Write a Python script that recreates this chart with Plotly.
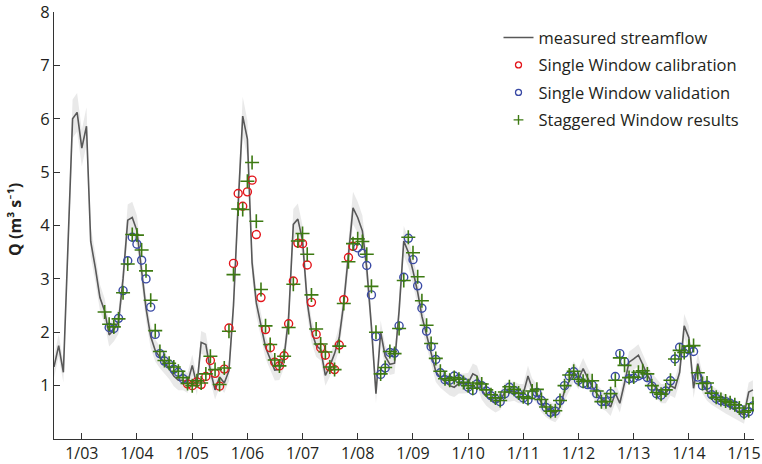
import plotly.graph_objects as go
import pandas as pd

# ---------------- data ----------------
# measured streamflow (monthly), Jul 2002 - Mar 2015
measured_start = "2002-07-01"
measured_q = [
    1.35, 1.75, 1.25, 3.6, 6.0, 6.12,                                      # 2002 Jul-Dec
    5.45, 5.86, 3.7, 3.2, 2.65, 2.4, 1.95, 2.05, 2.2, 3.0, 4.1, 4.15,      # 2003
    3.9, 3.15, 2.45, 1.92, 1.66, 1.53, 1.42, 1.32, 1.18, 1.1, 1.1, 1.05,   # 2004
    1.38, 1.0, 1.81, 1.77, 1.28, 0.92, 1.16, 1.05, 1.28, 2.5, 4.4, 6.05,   # 2005
    5.62, 3.3, 2.55, 2.1, 1.72, 1.5, 1.29, 1.3, 1.54, 2.28, 4.02, 4.12,    # 2006
    3.72, 2.56, 2.03, 1.75, 1.68, 1.19, 1.37, 1.6, 1.9, 2.55, 3.4, 4.33,   # 2007
    4.15, 3.9, 3.2, 2.1, 0.85, 2.0, 1.55, 1.4, 1.42, 2.4, 3.71, 3.5,       # 2008
    3.15, 2.75, 2.3, 1.95, 1.6, 1.26, 1.15, 1.07, 1.0, 0.97, 1.04, 1.04,   # 2009
    1.05, 1.22, 1.18, 0.92, 0.8, 0.73, 0.67, 0.72, 0.88, 0.88, 0.9, 0.85,  # 2010
    0.85, 1.18, 0.95, 0.85, 0.68, 0.58, 0.52, 0.48, 0.6, 0.9, 1.1, 1.26,   # 2011
    1.12, 1.32, 1.15, 0.98, 0.85, 0.75, 0.7, 0.6, 0.86, 0.67, 1.05, 1.44,  # 2012
    1.5, 1.57, 1.4, 1.2, 1.05, 0.95, 0.85, 0.85, 1.0, 0.95, 1.25, 2.12,    # 2013
    1.9, 0.95, 1.41, 1.04, 0.9, 0.82, 0.76, 0.7, 0.65, 0.6, 0.55, 0.5,     # 2014
    0.45, 0.88, 0.92,                                                      # 2015 Jan-Mar
]
# absolute / relative half-width of the measurement uncertainty band
band_abs = 0.15
band_rel = 0.035

# Single Window calibration, Dec 2004 - Dec 2007
calib_start = "2004-12-01"
calib_q = [
    1.03,
    1.0, 1.07, 1.02, 1.17, 1.47, 1.23, 0.99, 1.31, 2.08, 3.29, 4.6, 4.36,
    4.63, 4.85, 3.83, 2.65, 2.05, 1.71, 1.44, 1.37, 1.56, 2.16, 2.96, 3.67,
    3.66, 3.26, 2.56, 1.96, 1.71, 1.57, 1.35, 1.3, 1.76, 2.61, 3.4, 3.61,
]

# Single Window validation, Jul 2003 - Nov 2004 and Jan 2008 - Mar 2015
valid1_start = "2003-07-01"
valid1_q = [
    2.09, 2.07, 2.26, 2.78, 3.34, 3.78,
    3.65, 3.35, 3.0, 2.47, 1.96, 1.6, 1.46, 1.4, 1.31, 1.25, 1.13,
]
valid2_start = "2008-01-01"
valid2_q = [
    3.58, 3.48, 3.25, 2.7, 1.92, 1.21, 1.33, 1.62, 1.61, 2.12, 3.03, 3.76,
    3.36, 2.87, 2.45, 2.02, 1.73, 1.49, 1.24, 1.11, 1.1, 1.18, 1.13, 1.07,
    0.97, 0.91, 1.03, 1.0, 0.9, 0.81, 0.75, 0.7, 0.85, 0.97, 0.91, 0.84,
    0.77, 0.73, 0.83, 0.87, 0.72, 0.59, 0.5, 0.52, 0.72, 1.0, 1.18, 1.26,
    1.1, 1.04, 1.02, 1.01, 0.85, 0.7, 0.7, 0.85, 1.17, 1.6, 1.45, 1.13,
    1.14, 1.18, 1.21, 1.15, 0.99, 0.85, 0.82, 0.9, 1.09, 1.5, 1.72, 1.61,
    1.67, 1.64, 1.16, 1.0, 1.01, 0.83, 0.76, 0.72, 0.7, 0.67, 0.63, 0.57,
    0.48, 0.51, 0.62,
]

# Staggered Window results, Jun 2003 - Mar 2015
stag_start = "2003-06-01"
stag_q = [
    2.38, 2.15, 2.1, 2.25, 2.74, 3.28, 3.83,
    3.82, 3.54, 3.15, 2.6, 2.03, 1.64, 1.47, 1.42, 1.35, 1.27, 1.15, 1.04,
    1.0, 1.09, 1.05, 1.22, 1.55, 1.3, 1.02, 1.33, 2.02, 3.08, 4.31, 4.3,
    4.83, 5.18, 4.08, 2.8, 2.12, 1.77, 1.48, 1.37, 1.55, 2.09, 2.9, 3.71,
    3.85, 3.46, 2.7, 2.06, 1.78, 1.63, 1.35, 1.3, 1.74, 2.54, 3.32, 3.66,
    3.75, 3.7, 3.46, 2.86, 2.0, 1.22, 1.34, 1.64, 1.6, 2.07, 2.97, 3.78,
    3.49, 3.04, 2.59, 2.13, 1.79, 1.51, 1.27, 1.13, 1.1, 1.15, 1.12, 1.06,
    1.0, 0.95, 1.05, 1.03, 0.92, 0.83, 0.77, 0.72, 0.88, 0.98, 0.93, 0.86,
    0.79, 0.76, 0.9, 0.93, 0.74, 0.6, 0.52, 0.53, 0.72, 1.0, 1.2, 1.27,
    1.12, 1.08, 1.09, 1.09, 0.9, 0.7, 0.7, 0.85, 1.1, 1.52, 1.38, 1.15,
    1.16, 1.25, 1.28, 1.22, 1.0, 0.87, 0.84, 0.92, 1.1, 1.5, 1.66, 1.62,
    1.74, 1.75, 1.24, 1.04, 1.05, 0.86, 0.78, 0.74, 0.71, 0.68, 0.64, 0.58,
    0.5, 0.53, 0.66,
]

tick_years = list(range(2003, 2016))
tick_labels = ["1/%02d" % (y % 100) for y in tick_years]


def months(start, n):
    return pd.date_range(start, periods=n, freq="MS")


x_meas = months(measured_start, len(measured_q))
upper = [q + band_abs + band_rel * q for q in measured_q]
lower = [q - band_abs - band_rel * q for q in measured_q]

x_cal = months(calib_start, len(calib_q))
x_val = list(months(valid1_start, len(valid1_q))) + list(months(valid2_start, len(valid2_q)))
y_val = valid1_q + valid2_q
x_stag = months(stag_start, len(stag_q))

FONT = "Open Sans, Lato, DejaVu Sans, sans-serif"
TXT = "#231f20"
RED = "#e3151b"
BLUE = "#3a4aa5"
GREEN = "#3d7a12"
LINE = "#585858"
AX = "#333333"

fig = go.Figure()
fig.add_trace(go.Scatter(x=x_meas, y=upper, mode="lines", line=dict(width=0),
                         showlegend=False, hoverinfo="skip"))
fig.add_trace(go.Scatter(x=x_meas, y=lower, mode="lines", line=dict(width=0),
                         fill="tonexty", fillcolor="rgba(225,225,225,0.75)",
                         showlegend=False, hoverinfo="skip"))
fig.add_trace(go.Scatter(x=x_meas, y=measured_q, mode="lines",
                         line=dict(color=LINE, width=1.6),
                         name="measured streamflow", showlegend=False))
fig.add_trace(go.Scatter(x=x_cal, y=calib_q, mode="markers",
                         marker=dict(symbol="circle-open", size=8, color=RED,
                                     line=dict(width=1.4, color=RED)),
                         name="Single Window calibration", showlegend=False))
fig.add_trace(go.Scatter(x=x_val, y=y_val, mode="markers",
                         marker=dict(symbol="circle-open", size=8, color=BLUE,
                                     line=dict(width=1.4, color=BLUE)),
                         name="Single Window validation", showlegend=False))
fig.add_trace(go.Scatter(x=x_stag, y=stag_q, mode="markers",
                         marker=dict(symbol="cross-thin-open", size=10, color=GREEN,
                                     line=dict(width=1.6, color=GREEN)),
                         name="Staggered Window results", showlegend=False))

# legend entries (small symbols, as in the original legend)
fig.add_trace(go.Scatter(x=[None], y=[None], mode="lines",
                         line=dict(color=LINE, width=1.6),
                         name="measured streamflow", legendgroup="a"))
fig.add_trace(go.Scatter(x=[None], y=[None], mode="markers",
                         marker=dict(symbol="circle-open", size=6, color=RED,
                                     line=dict(width=1.3, color=RED)),
                         name="Single Window calibration", legendgroup="b"))
fig.add_trace(go.Scatter(x=[None], y=[None], mode="markers",
                         marker=dict(symbol="circle-open", size=6, color=BLUE,
                                     line=dict(width=1.3, color=BLUE)),
                         name="Single Window validation", legendgroup="c"))
fig.add_trace(go.Scatter(x=[None], y=[None], mode="markers",
                         marker=dict(symbol="cross-thin-open", size=7, color=GREEN,
                                     line=dict(width=1.4, color=GREEN)),
                         name="Staggered Window results", legendgroup="d"))

fig.update_layout(
    width=762, height=464,
    margin=dict(l=54, r=8, t=12, b=25),
    paper_bgcolor="white", plot_bgcolor="white",
    font=dict(family=FONT, color=TXT),
    showlegend=True,
    legend=dict(x=0.635, y=0.9806, xanchor="left", yanchor="top",
                bgcolor="rgba(0,0,0,0)", font=dict(size=16.5, color=TXT),
                traceorder="grouped", tracegroupgap=3, itemwidth=30),
    annotations=[dict(text="<b>Q (m³ s⁻¹)</b>", textangle=-90,
                      xref="paper", yref="paper", x=-0.056, y=0.515,
                      xanchor="center", yanchor="middle", showarrow=False,
                      font=dict(size=16, color=TXT))],
)
fig.update_xaxes(
    type="date", range=["2002-07-01", "2015-03-08"],
    tickvals=[pd.Timestamp(y, 1, 1) for y in tick_years], ticktext=tick_labels,
    ticks="inside", ticklen=6, tickwidth=1.2, tickcolor=AX,
    showline=True, linecolor=AX, linewidth=1.2, automargin=False,
    ticklabeloverflow="allow",
    showgrid=False, zeroline=False, tickfont=dict(size=16, color=TXT),
)
fig.update_yaxes(
    range=[0, 8], tickvals=list(range(1, 9)),
    ticks="inside", ticklen=6, tickwidth=1.2, tickcolor=AX,
    showline=True, linecolor=AX, linewidth=1.2, automargin=False,
    ticklabeloverflow="allow",
    showgrid=False, zeroline=False, tickfont=dict(size=16.5, color=TXT),
)

# the page's default body margin would shift the figure by 8 px
fig.write_html("out.html", config={"displayModeBar": False},
               post_script="document.body.style.margin='0';")
